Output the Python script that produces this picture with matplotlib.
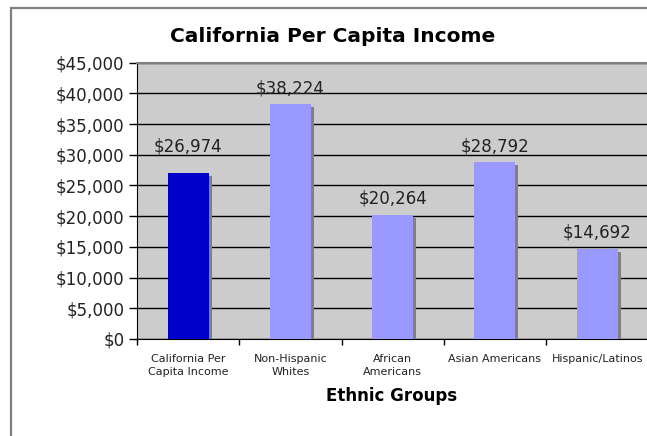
import matplotlib
matplotlib.use('Agg')
import matplotlib.pyplot as plt
import matplotlib.patheffects as pe
from matplotlib.patches import Rectangle
from matplotlib.ticker import FuncFormatter, MultipleLocator

plt.rcParams['font.family'] = ['DejaVu Sans']

# --- Data ---
groups = ['California Per\nCapita Income', 'Non-Hispanic\nWhites', 'African\nAmericans',
          'Asian Americans', 'Hispanic/Latinos']
income = [26974, 38224, 20264, 28792, 14692]
bar_colors = ['#0000CC', '#9999FF', '#9999FF', '#9999FF', '#9999FF']

W, H = 647, 436
fig = plt.figure(figsize=(W / 100, H / 100), dpi=100, facecolor='white')

# outer chart frame (runs off the right and bottom edges)
fig.add_artist(Rectangle((10.5 / W, -0.1), 2.0, 1 - 8.5 / H + 0.1,
                         transform=fig.transFigure, fill=False,
                         ec='#808080', lw=1.6))

ax = fig.add_axes([137 / W, 1 - 339 / H, 1 - 137 / W + 0.002, (339 - 62.7) / H])
ax.set_facecolor('#CCCCCC')

x = range(len(groups))
bars = ax.bar(x, income, width=0.4, color=bar_colors, zorder=3)
for b in bars:
    b.set_path_effects([pe.SimplePatchShadow(offset=(2.2, -2.2), shadow_rgbFace='#808080', alpha=1.0),
                        pe.Normal()])

ax.set_xlim(-0.5, 4.5)
ax.set_ylim(0, 45000)
ax.yaxis.set_major_locator(MultipleLocator(5000))
ax.yaxis.set_major_formatter(FuncFormatter(lambda v, p: f'${v:,.0f}'))
ax.grid(axis='y', color='black', lw=1.0, zorder=1)

ax.set_xticks(list(x))
ax.set_xticklabels(groups, fontsize=8, color='#222222', linespacing=1.35)
ax.set_xticks([i - 0.5 for i in x], minor=True)
ax.tick_params(axis='x', which='major', length=0, pad=11)
ax.tick_params(axis='x', which='minor', length=4, width=1, color='black')
ax.tick_params(axis='y', length=6, width=1, color='black', labelsize=12,
               labelcolor='#222222', pad=3)

ax.spines['right'].set_visible(False)
ax.spines['top'].set_color('#808080')
ax.spines['top'].set_linewidth(1.5)
ax.spines['left'].set_color('black')
ax.spines['bottom'].set_color('black')

# value labels (first one sits higher in the original)
extra = [8, 0, 0, 0, 0]
for xi, v, e in zip(x, income, extra):
    ax.annotate(f'${v:,}', (xi, v), xytext=(0, 5 + e), textcoords='offset points',
                ha='center', va='bottom', fontsize=12, color='#222222', zorder=5)

fig.text(333 / W, 1 - 37 / H, 'California Per Capita Income', ha='center', va='center',
         fontsize=14.5, fontweight='bold', color='black')
fig.text(392 / W, 1 - 396 / H, 'Ethnic Groups', ha='center', va='center',
         fontsize=12, fontweight='bold', color='black')

fig.savefig('out.png', dpi=100, facecolor='white')
